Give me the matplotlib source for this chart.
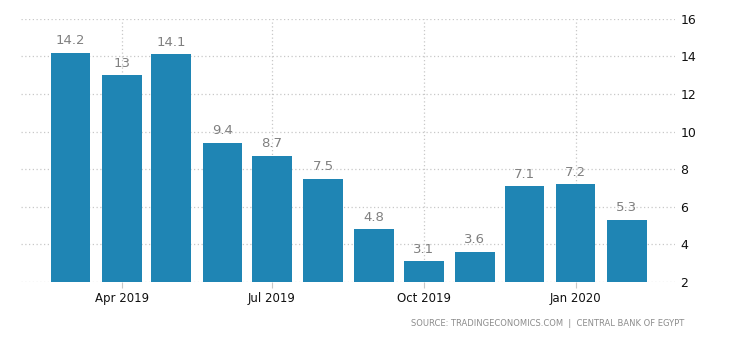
import datetime as dt

import matplotlib
matplotlib.use("Agg")
import matplotlib.dates as mdates
import matplotlib.pyplot as plt

# monthly values, Mar 2019 - Feb 2020
months = ["2019-03", "2019-04", "2019-05", "2019-06", "2019-07", "2019-08",
          "2019-09", "2019-10", "2019-11", "2019-12", "2020-01", "2020-02"]
values = [14.2, 13, 14.1, 9.4, 8.7, 7.5, 4.8, 3.1, 3.6, 7.1, 7.2, 5.3]
value_labels = ["14.2", "13", "14.1", "9.4", "8.7", "7.5",
                "4.8", "3.1", "3.6", "7.1", "7.2", "5.3"]
tick_dates = ["2019-04", "2019-07", "2019-10", "2020-01"]
tick_labels = ["Apr 2019", "Jul 2019", "Oct 2019", "Jan 2020"]
y_ticks = [2, 4, 6, 8, 10, 12, 14, 16]
source = "SOURCE: TRADINGECONOMICS.COM  |  CENTRAL BANK OF EGYPT"

bar_color = "#1f85b4"
grid_color = "#c8c8c8"

dates = [dt.datetime.strptime(m, "%Y-%m") for m in months]
ticks = [dt.datetime.strptime(m, "%Y-%m") for m in tick_dates]
base = 2

fig = plt.figure(figsize=(7.37, 3.39), dpi=100)
ax = fig.add_axes([0.0285, 0.168, 0.887, 0.777])

ax.bar(dates, [v - base for v in values], bottom=base, width=24,
       color=bar_color, align="center", zorder=2)

for d, v, lab in zip(dates, values, value_labels):
    ax.annotate(lab, (mdates.date2num(d), v), xytext=(0, 4),
                textcoords="offset points", ha="center", va="bottom",
                fontsize=9.5, color="#808080")

ax.set_xlim(dt.datetime(2019, 1, 30), dt.datetime(2020, 3, 1))
ax.set_ylim(2, 16)
ax.set_xticks(ticks)
ax.set_xticklabels(tick_labels)
ax.set_yticks(y_ticks)

ax.yaxis.tick_right()
ax.tick_params(axis="y", length=0, pad=4, labelsize=9, colors="#111111")
ax.tick_params(axis="x", length=4, width=0.8, color=grid_color,
               pad=3, labelsize=8.5, labelcolor="#111111")

ax.grid(True, color=grid_color, linestyle=(0, (1, 2)), linewidth=0.9, zorder=0)
ax.set_axisbelow(True)
for s in ax.spines.values():
    s.set_visible(False)

fig.text(0.928, 0.045, source, ha="right", va="center",
         fontsize=6, color="#8c8c8c")

fig.savefig("out.png", dpi=100)
